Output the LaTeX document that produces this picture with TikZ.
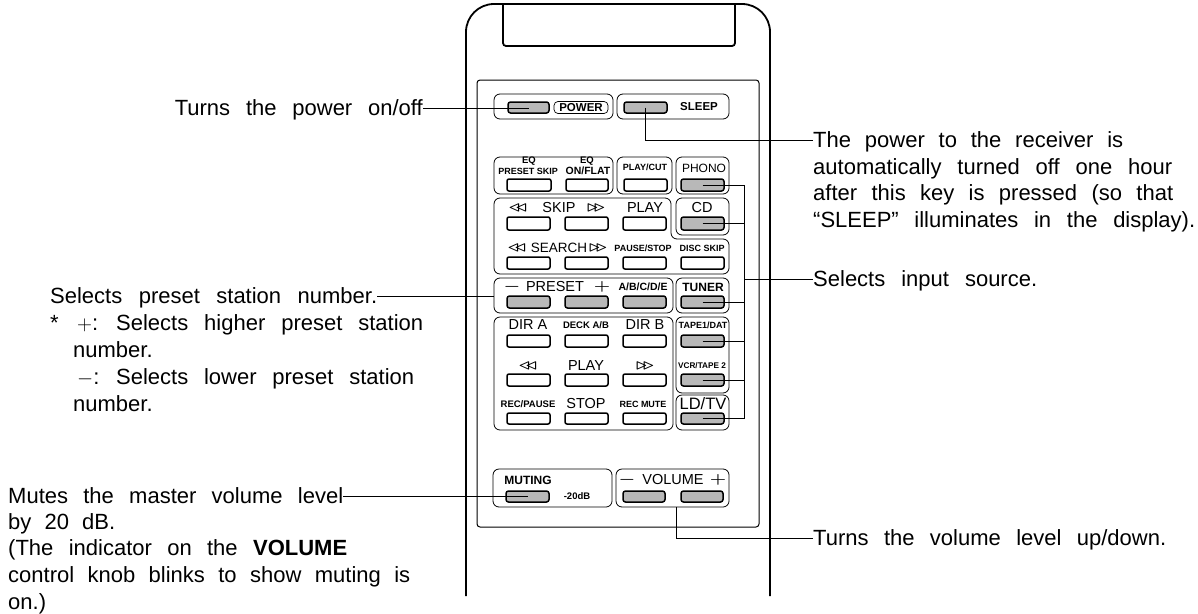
\documentclass[tikz,border=0pt]{standalone}
\usepackage{fontspec}
\setmainfont{Liberation Sans}
\usepackage{tikz}
\usetikzlibrary{positioning,calc}
\newcommand{\fitline}[2]{\makebox[#1pt][s]{#2}}

\begin{document}
\begin{tikzpicture}[
  x=1pt, y=-1pt,
  lbl/.style={font=\fontsize{22}{26.8}\selectfont, inner sep=0pt, align=left, anchor=west},
  lbone/.style={lbl, text height=15.8pt, text depth=0pt},
  keytxt/.style={font=\fontsize{9.5}{9.5}\selectfont\bfseries, inner sep=0pt},
  keysm/.style={font=\fontsize{9}{9}\selectfont\bfseries, inner sep=0pt},
  keybg/.style={font=\fontsize{10.5}{10.5}\selectfont\bfseries, inner sep=0pt},
  keylab/.style={font=\fontsize{14.5}{14.5}\selectfont, inner sep=0pt},
  keymid/.style={font=\fontsize{12}{12}\selectfont, inner sep=0pt},
  keytri/.style={font=\fontsize{14.5}{14.5}\selectfont\boldmath, inner sep=0pt, xscale=1.3},
  keyg/.style={draw=black, line width=1.5pt, rounded corners=2.5pt, fill=black!28, inner sep=0pt},
  keyw/.style={draw=black, line width=1.5pt, rounded corners=2pt, fill=white, inner sep=0pt},
  lead/.style={draw=black, line width=1pt},
  body/.style={draw=black, line width=1.8pt},
  grp/.style={draw=black, line width=0.8pt, rounded corners=6pt}]
\useasboundingbox (0,0) rectangle (1198,613);
% remote control outline
\draw[body, rounded corners=28pt] (466,596) -- (466,4) -- (770,4) -- (770,596);
\draw[body, rounded corners=3pt] (503,4) -- (503,46) -- (735,46) -- (735,4);
\draw[line width=1pt, rounded corners=3pt] (477,80) rectangle (759,527);
% button groups
\draw[grp] (494,94) rectangle (613,119);
\draw[grp] (617,94) rectangle (729,119);
\draw[grp] (494,157) rectangle (613,194);
\draw[grp] (617,157) rectangle (672,194);
\draw[grp] (676,157) rectangle (729,194);
\draw[grp] (494,198) -- (671,198) -- (671,239) -- (729,239) -- (729,274) -- (494,274) -- cycle;
\draw[grp] (676,198) -- (729,198) -- (729,235) -- (676,235) -- cycle;
\draw[grp] (494,278) rectangle (673,313);
\draw[grp] (676,278) rectangle (729,313);
\draw[grp] (494,317) rectangle (673,430);
\draw[grp] (676,317) rectangle (729,393);
\draw[grp] (676,395) rectangle (729,430);
\draw[grp] (493,469) rectangle (612,507);
\draw[grp] (616,469) rectangle (729,507);
% keys
\foreach \nm/\xa/\ya/\xb/\yb in {pwr/508/102/549/113, slp/624/102/667/113, phn/681/179/724/191,
    cdk/681/217/724/230, pm/507/296/550/308, pp/565/296/608/308, abc/623/296/666/308,
    tun/681/296/724/308, tap/681/335/724/347, vcr/681/374/724/386, ldt/681/413/724/424,
    mut/506/491/549/502, vm/623/491/665/502, vp/681/491/723/502}
  \node[keyg, minimum width=\xb-\xa, minimum height=\yb-\ya] (\nm) at ({(\xa+\xb)/2},{(\ya+\yb)/2}) {};
\foreach \nm/\xa/\ya/\xb/\yb in {psk/507/179/551/191, onf/566/179/608/191, pcu/624/179/667/191,
    sa/507/217/550/230, sb/565/217/608/230, sc/623/217/666/230,
    ra/507/257/550/269, rb/565/257/608/269, rc/623/257/666/269, rd/681/257/724/269,
    da/507/335/550/347, db/565/335/608/347, dc/623/335/666/347,
    ea/507/374/550/386, eb/565/374/608/386, ec/623/374/666/386,
    fa/507/413/550/424, fb/565/413/608/424, fc/623/413/666/424}
  \node[keyw, minimum width=\xb-\xa, minimum height=\yb-\ya] (\nm) at ({(\xa+\xb)/2},{(\ya+\yb)/2}) {};
% key captions
\node[keybg, font=\fontsize{11.5}{11.5}\selectfont\bfseries, draw, rounded corners=4pt, minimum width=54pt, minimum height=12pt, line width=0.7pt] (tpwr) at (581,107.5) {POWER};
\node[keybg, font=\fontsize{11.5}{11.5}\selectfont\bfseries] (tslp) at (699,107) {SLEEP};
\node[keytxt] (teqa) at (529,161) {EQ};
\node[keytxt] (teqb) at (587,161) {EQ};
\node[keysm] (tpsk) at (528,171) {PRESET SKIP};
\node[keybg] (tonf) at (588,171) {ON/FLAT};
\node[keysm] (tpcu) at (645,167) {PLAY/CUT};
\node[keymid] (tphn) at (704,168) {PHONO};
\node[keytri] (tska) at (518,208) {$\triangleleft\!\triangleleft$};
\node[keylab] (tskp) at (559,208) {SKIP};
\node[keytri] (tskb) at (596,208) {$\triangleright\!\triangleright$};
\node[keylab] (tpl) at (645,208) {PLAY};
\node[keylab] (tcd) at (702,208) {CD};
\node[keytri] (tsra) at (517,248) {$\triangleleft\!\triangleleft$};
\node[keylab, font=\fontsize{13.5}{13.5}\selectfont] (tsrc) at (559,248) {SEARCH};
\node[keytri] (tsrb) at (598,248) {$\triangleright\!\triangleright$};
\node[keysm] (tpau) at (643,248) {PAUSE/STOP};
\node[keysm] (tdsc) at (702,248) {DISC SKIP};
\node[keytri] (tmi) at (512,287) {$-$};
\node[keylab] (tpre) at (555,287) {PRESET};
\node[keytri] (tpl2) at (602,287) {$+$};
\node[keybg] (tabc) at (643,287) {A/B/C/D/E};
\node[keybg, font=\fontsize{12}{12}\selectfont\bfseries] (ttun) at (703,287) {TUNER};
\node[keylab] (tdia) at (528,325) {DIR A};
\node[keysm, font=\fontsize{9.5}{9.5}\selectfont\bfseries] (tdck) at (586,325) {DECK A/B};
\node[keylab] (tdib) at (645,325) {DIR B};
\node[keysm] (ttap) at (703,325) {TAPE1/DAT};
\node[keytri] (tlf) at (528,366) {$\triangleleft\!\triangleleft$};
\node[keylab] (tply) at (586,366) {PLAY};
\node[keytri] (trt) at (645,366) {$\triangleright\!\triangleright$};
\node[keysm, font=\fontsize{8.2}{8.2}\selectfont\bfseries] (tvcr) at (702,366) {VCR/TAPE 2};
\node[keytxt] (trec) at (528,404) {REC/PAUSE};
\node[keylab] (tstp) at (586,404) {STOP};
\node[keysm] (trem) at (643,404) {REC MUTE};
\node[font=\fontsize{16.5}{16.5}\selectfont, inner sep=0pt] (tld) at (703,404) {LD/TV};
\node[keybg, font=\fontsize{12}{12}\selectfont\bfseries] (tmut) at (528,480) {MUTING};
\node[keytxt] (tdb) at (577,496) {-20dB};
\node[keytri] (tvm) at (627,480) {$-$};
\node[keylab] (tvol) at (673,480) {VOLUME};
\node[keytri] (tvp) at (718,480) {$+$};
% explanations
\node[lbone, anchor=east] (lpwr) at (423,108) {\fitline{248}{Turns the power on/off}};
\node[lbone] (lslp) at (813,140) {\fitline{310}{The power to the receiver is}};
\node[lbl, anchor=north west] (lslq) at (813,158) {\fitline{359}{automatically turned off one hour}\\\fitline{360}{after this key is pressed (so that}\\\fitline{382}{``SLEEP'' illuminates in the display).}};
\node[lbone] (linp) at (813,279) {\fitline{224}{Selects input source.}};
\node[lbone] (lpre) at (50,296) {\fitline{327}{Selects preset station number.}};
\node[lbl, anchor=north west] (lprs) at (50,314.5) {\makebox[27pt][l]{*}\makebox[39pt][l]{$+$:}\fitline{307}{Selects higher preset station}\\\hspace{23pt}\fitline{84}{number.}\\\hspace{27pt}\makebox[39pt][l]{$-$:}\fitline{298}{Selects lower preset station}\\\hspace{23pt}\fitline{84}{number.}};
\node[lbone] (lmut) at (8,496) {\fitline{335}{Mutes the master volume level}};
\node[lbl, anchor=north west] (lmuu) at (8,513) {\fitline{107}{by 20 dB.}\\\fitline{339}{(The indicator on the \textbf{VOLUME}}\\\fitline{402}{control knob blinks to show muting is}\\on.)};
\node[lbone] (lvol) at (813,538) {\fitline{353}{Turns the volume level up/down.}};
\coordinate (inbus) at (744,279);
\coordinate (pregrp) at (494,296);
\coordinate (volstem) at (676,507);
% leaders
\draw[lead] (lpwr.east) -- (lpwr.east -| pwr.center);
\draw[lead] (slp.center) |- (lslp.west);
\draw[lead] (phn.center) -| (inbus);
\draw[lead] (ldt.center) -| (inbus);
\draw[lead] (cdk.center) -| (inbus);
\draw[lead] (tun.center) -| (inbus);
\draw[lead] (tap.center) -| (inbus);
\draw[lead] (vcr.center) -| (inbus);
\draw[lead] (inbus) -- (linp.west);
\draw[lead] (lpre.east) -- (pregrp);
\draw[lead] (lmut.east) -- (lmut.east -| mut.center);
\draw[lead] (volstem) |- (lvol.west);
\end{tikzpicture}
\end{document}
